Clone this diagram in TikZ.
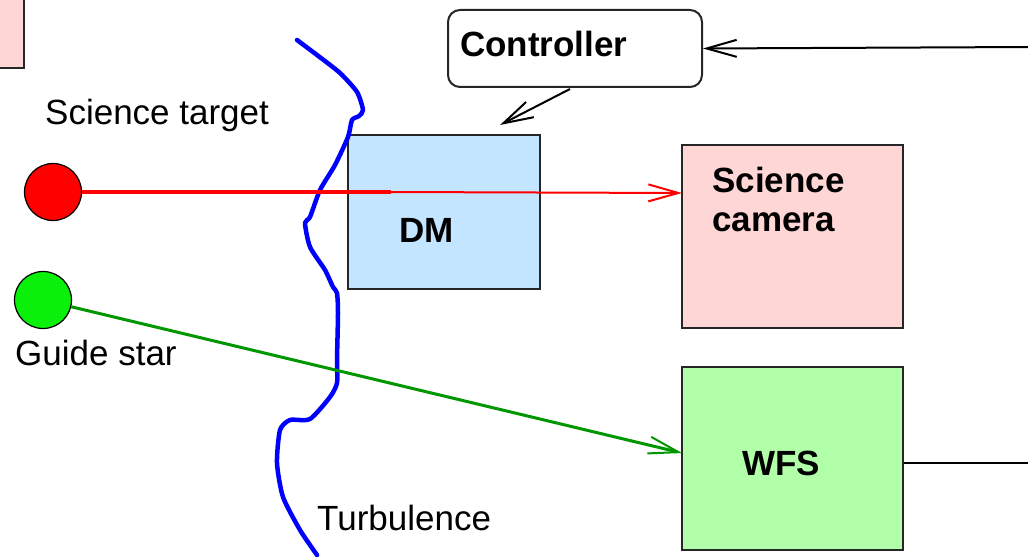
\documentclass[tikz,border=0pt]{standalone}
\usepackage{fontspec}
\setmainfont{Liberation Sans}
\usetikzlibrary{arrows.meta}
\definecolor{boxpink}{RGB}{255,214,214}
\definecolor{dmblue}{RGB}{196,229,255}
\definecolor{wfsgreen}{RGB}{178,255,170}
\definecolor{stargreen}{RGB}{10,240,10}
\definecolor{beamgreen}{RGB}{0,150,0}

\begin{document}
\begin{tikzpicture}[x=1pt,y=-1pt,
		every node/.style={font=\fontsize{35}{39}\selectfont,inner sep=0pt},
		box/.style={draw=black!85,line width=2pt,rectangle},
		star/.style={draw,circle,line width=1.2pt,minimum size=57pt},
		lbl/.style={font=\fontsize{35}{39}\selectfont\bfseries,anchor=base west},
		>={Straight Barb[length=30pt,width=17pt,line width=2pt]}]
			\useasboundingbox (0,0) rectangle (1028,559);
			\node[box,fill=boxpink,minimum width=80pt,minimum height=100pt] (corner)at(-16,18) {};
			\node[star,fill=red] (rstar)at(53,192) {};
			\node[star,fill=stargreen] (gstar)at(43,300) {};
			\node[anchor=base west] (tgttxt)at(45,125) {Science target};
			\node[anchor=base west] (gstxt)at(15,365) {Guide star};
			\node[anchor=base west] (turbtxt)at(317,530) {Turbulence};
			\node[box,fill=dmblue,minimum width=192pt,minimum height=154pt] (dm)at(444,212) {};
			\node[box,fill=boxpink,minimum width=221pt,minimum height=183pt] (cam)at(792.5,236.5) {};
			\node[box,fill=wfsgreen,minimum width=221pt,minimum height=183pt] (wfs)at(792.5,458.5) {};
			\node[box,rounded corners=12pt,fill=white,minimum width=254pt,minimum height=77pt] (ctrl)at(575,48.5) {};
			\node[lbl] (ctrltxt)at(460,57) {Controller};
			\node[lbl] (dmtxt)at(399,242) {DM};
			\node[lbl,anchor=north west,align=left] (camtxt)at(712,167) {Science\\camera};
			\node[lbl] (wfstxt)at(742,475) {WFS};
			\coordinate (dmhit) at (391,192);
			\coordinate (camin) at (682,193);
			\coordinate (wfsin) at (682,453);
			\coordinate (dmtop) at (500,125);
			\coordinate (ctrlin) at (1030,47);
			\coordinate (wfsout) at (1030,463);
			\draw[blue,line width=4.5pt,line join=round,line cap=round] plot[smooth,tension=0.4] coordinates {(297,40) (317,55) (340,73) (357,92) (363,110) (359,116) (352,120) (348,137) (335,165) (320,190) (310,217) (305,223) (310,247) (325,270) (333,287) (337,293) (338,313) (337,360) (337,383) (330,397) (310,419) (290,420) (280,430) (277,463) (283,497) (300,530) (317,555)};
			\draw[red,line width=4pt] (rstar) -- (dmhit);
			\draw[red,line width=2pt,->] (dmhit) -- (camin);
			\draw[beamgreen,line width=3pt,->] (gstar) -- (wfsin);
			\draw[line width=2pt,->] (ctrl.south) ++(-5,1) -- (dmtop);
			\draw[line width=2pt,->] (ctrlin) -- (ctrl.east);
			\draw[line width=2pt] (wfs.east|-wfsout) -- (wfsout);
		\end{tikzpicture}
\end{document}
